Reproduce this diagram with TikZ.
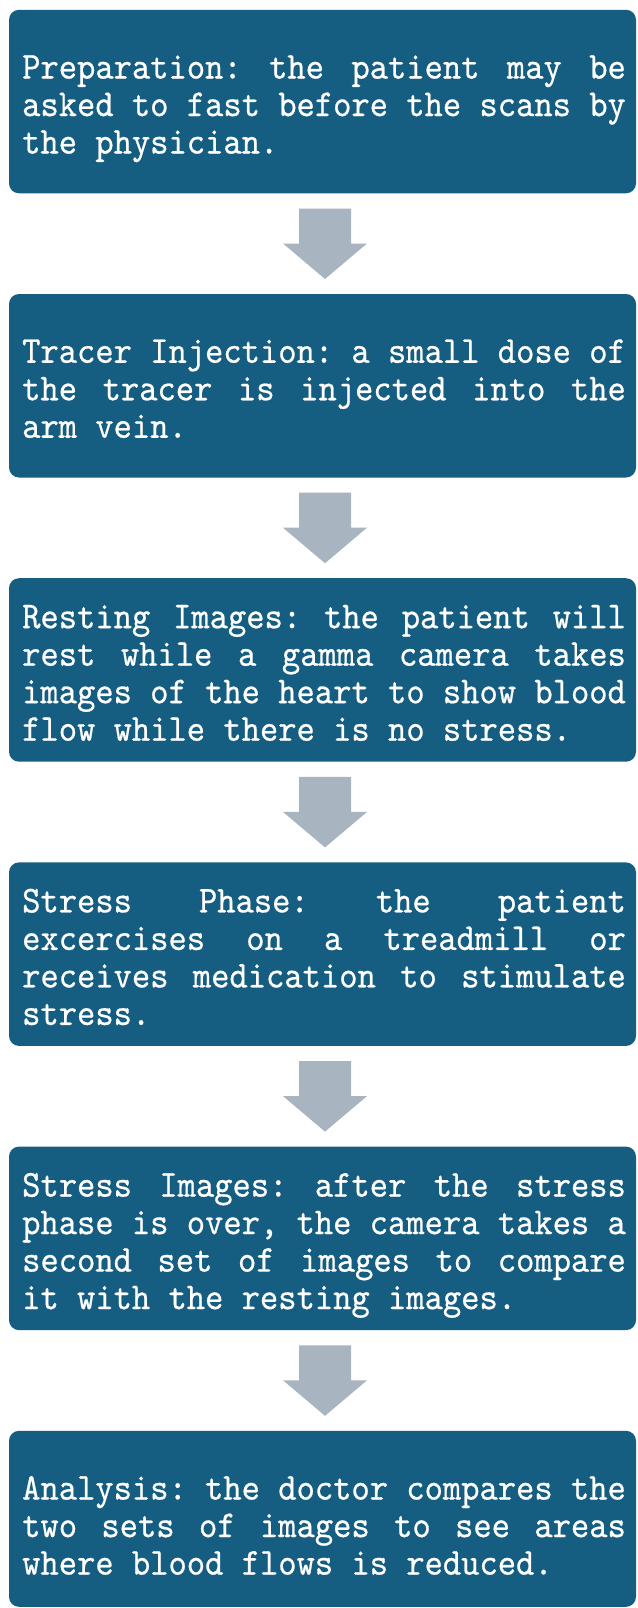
\documentclass[tikz,border=0pt]{standalone}
\usepackage{fontspec}
\usetikzlibrary{calc}
\newfontfamily\boxfont{lmmono10-regular}[Extension=.otf,FakeStretch=0.917,FakeBold=0.6]
\definecolor{boxblue}{HTML}{155E82}
\definecolor{arrowgray}{HTML}{A9B4C1}
\newdimen\cwd
\newcommand\gap{\hskip\cwd plus 1fil\relax}
\newcommand\jl[1]{\makebox[33\cwd][s]{#1}}
\tikzset{
  stepbox/.style={fill=boxblue, draw=none, rounded corners=10pt, minimum width=627pt, minimum height=183.5pt, inner sep=0pt},
  boxtext/.style={text=white, inner sep=0pt, text width=610pt, align=left, anchor=base west,
    font={\boxfont\fontsize{38}{37.5}\selectfont\settowidth{\cwd}{0}}},
  blockarrow/.style={fill=arrowgray, draw=none}
}
\newcommand\downarrowfrom[1]{%
  \fill[blockarrow] ($(#1)+(-26,0)$) -- ($(#1)+(26,0)$) -- ($(#1)+(26,35)$) -- ($(#1)+(42,35)$)
    -- ($(#1)+(0,70.5)$) -- ($(#1)+(-42,35)$) -- ($(#1)+(-26,35)$) -- cycle;}
\begin{document}
\begin{tikzpicture}[x=1pt,y=-1pt]
\fill[white] (0,0) rectangle (637,1608);
\useasboundingbox (0,0) rectangle (637,1608);

\node[stepbox] (b1) at (322.5,101.55) {};
\node[stepbox] (b2) at (322.5,385.75) {};
\node[stepbox] (b3) at (322.5,669.95) {};
\node[stepbox] (b4) at (322.5,954.15) {};
\node[stepbox] (b5) at (322.5,1238.35) {};
\node[stepbox, minimum height=176pt] (b6) at (322.5,1518.8) {};

\node[boxtext] (t1) at ($(b1.center)+(-300.5,-23)$) {%
\jl{Preparation:\gap the\gap patient\gap may\gap be}\\
\jl{asked\gap to\gap fast\gap before\gap the\gap scans\gap by}\\
\mbox{the\gap physician.}};
\node[boxtext] (t2) at ($(b2.center)+(-300.5,-23)$) {%
\jl{Tracer\gap Injection:\gap a\gap small\gap dose\gap of}\\
\jl{the\gap tracer\gap is\gap injected\gap into\gap the}\\
\mbox{arm\gap vein.}};
\node[boxtext] (t3) at ($(b3.center)+(-300.5,-41.75)$) {%
\jl{Resting\gap Images:\gap the\gap patient\gap will}\\
\jl{rest\gap while\gap a\gap gamma\gap camera\gap takes}\\
\jl{images\gap of\gap the\gap heart\gap to\gap show\gap blood}\\
\mbox{flow\gap while\gap there\gap is\gap no\gap stress.}};
\node[boxtext] (t4) at ($(b4.center)+(-300.5,-41.75)$) {%
\jl{Stress\gap Phase:\gap the\gap patient}\\
\jl{excercises\gap on\gap a\gap treadmill\gap or}\\
\jl{receives\gap medication\gap to\gap stimulate}\\
\mbox{stress.}};
\node[boxtext] (t5) at ($(b5.center)+(-300.5,-41.75)$) {%
\jl{Stress\gap Images:\gap after\gap the\gap stress}\\
\jl{phase\gap is\gap over,\gap the\gap camera\gap takes\gap a}\\
\jl{second\gap set\gap of\gap images\gap to\gap compare}\\
\mbox{it\gap with\gap the\gap resting\gap images.}};
\node[boxtext] (t6) at ($(b6.center)+(-300.5,-19.25)$) {%
\jl{Analysis:\gap the\gap doctor\gap compares\gap the}\\
\jl{two\gap sets\gap of\gap images\gap to\gap see\gap areas}\\
\mbox{where\gap blood\gap flows\gap is\gap reduced.}};

\coordinate (a1) at ([xshift=2.5pt,yshift=-15pt]b1.south);
\coordinate (a2) at ([xshift=2.5pt,yshift=-15pt]b2.south);
\coordinate (a3) at ([xshift=2.5pt,yshift=-15pt]b3.south);
\coordinate (a4) at ([xshift=2.5pt,yshift=-15pt]b4.south);
\coordinate (a5) at ([xshift=2.5pt,yshift=-15pt]b5.south);
\downarrowfrom{a1}
\downarrowfrom{a2}
\downarrowfrom{a3}
\downarrowfrom{a4}
\downarrowfrom{a5}
\end{tikzpicture}
\end{document}
